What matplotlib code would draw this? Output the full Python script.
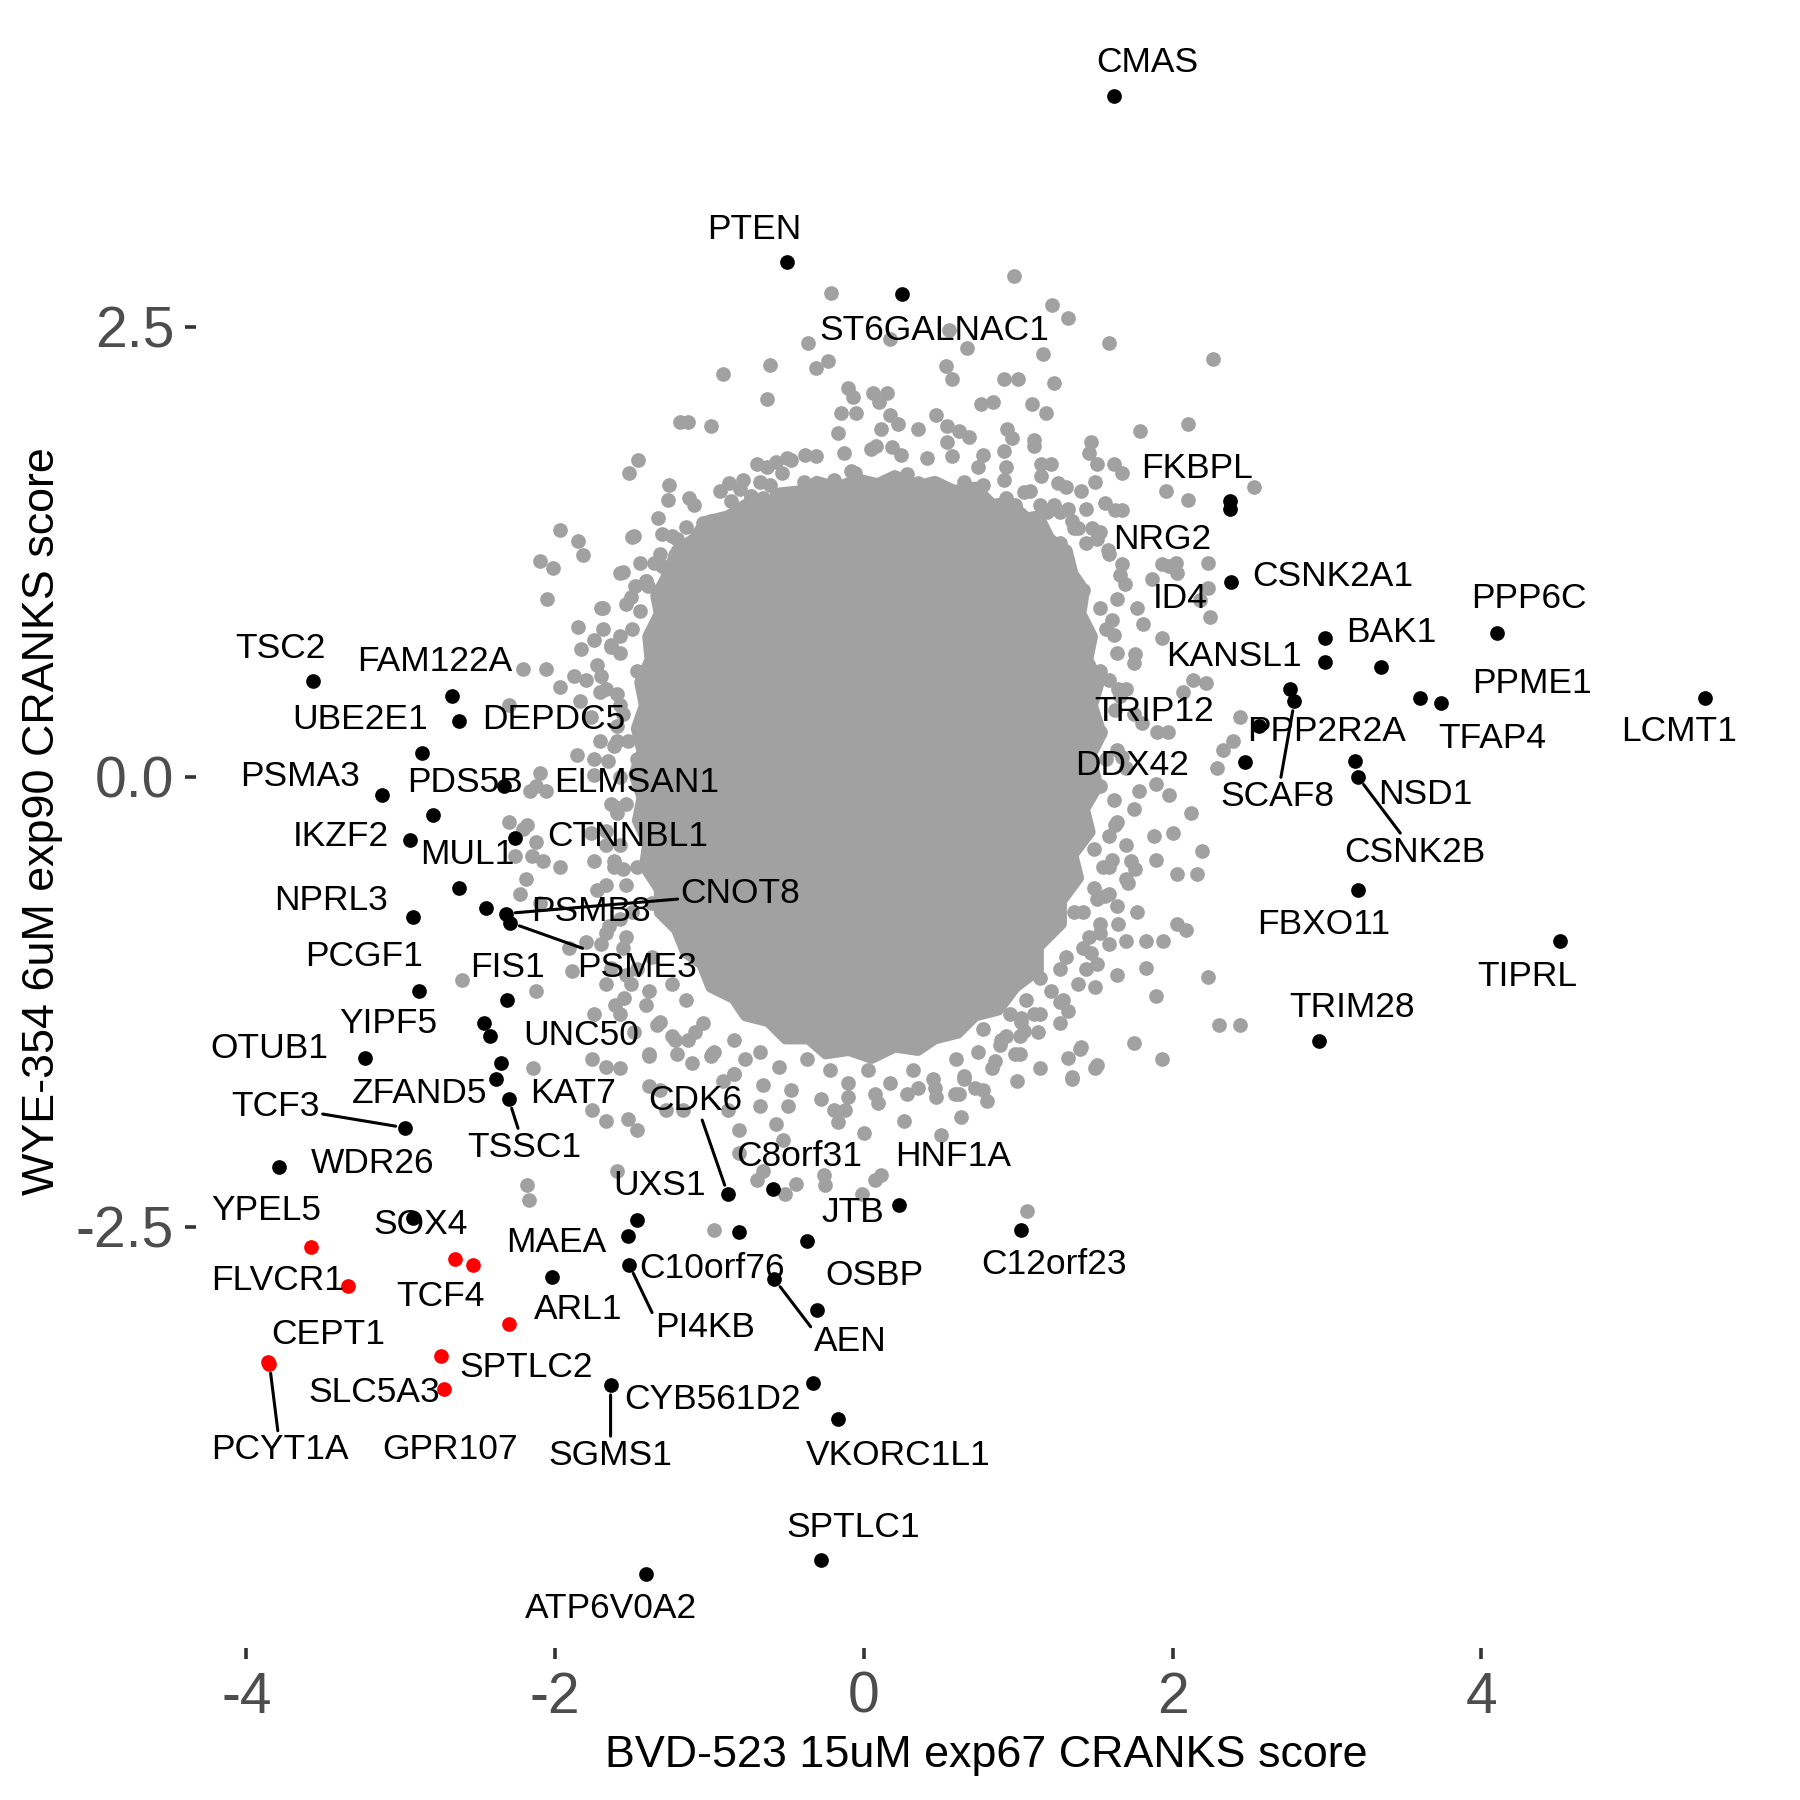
import matplotlib
matplotlib.use("Agg")
import matplotlib.pyplot as plt

plt.rcParams['font.family'] = ['Liberation Sans', 'DejaVu Sans']
plt.rcParams['axes.unicode_minus'] = False

# --- labelled genes (BVD-523 score, WYE-354 score) ---
hit_names = ["CMAS", "PTEN", "ST6GALNAC1", "FKBPL", "NRG2", "CSNK2A1", "ID4", "KANSL1",
             "BAK1", "PPP6C", "PPME1", "TFAP4", "LCMT1", "TRIP12", "SCAF8", "PPP2R2A",
             "DDX42", "NSD1", "CSNK2B", "FBXO11", "TIPRL", "TRIM28",
             "TSC2", "FAM122A", "DEPDC5", "UBE2E1", "PSMA3", "PDS5B", "ELMSAN1", "IKZF2",
             "CTNNBL1", "MUL1", "NPRL3", "PSMB8", "CNOT8", "PSME3", "PCGF1", "FIS1",
             "YIPF5", "UNC50", "OTUB1", "ZFAND5", "KAT7", "TSSC1", "TCF3", "WDR26", "SOX4",
             "UXS1", "MAEA", "PI4KB", "ARL1", "C10orf76", "CDK6", "C8orf31", "HNF1A",
             "JTB", "OSBP", "AEN", "C12orf23", "CYB561D2", "SGMS1", "VKORC1L1", "SPTLC1",
             "ATP6V0A2",
             "YPEL5", "FLVCR1", "TCF4", "SPTLC2", "GPR107", "SLC5A3", "CEPT1", "PCYT1A"]
hit_x = [1.62, -0.50, 0.25, 2.37, 2.37, 2.38, 2.99, 2.99,
         3.35, 4.10, 3.60, 3.74, 5.45, 2.76, 2.79, 2.56,
         2.47, 3.18, 3.20, 3.20, 4.51, 2.95,
         -3.57, -2.67, -2.62, -2.86, -3.12, -2.79, -2.33, -2.94,
         -2.26, -2.62, -2.92, -2.45, -2.32, -2.29, -2.88, -2.31,
         -2.46, -2.42, -3.23, -2.35, -2.38, -2.30, -2.97, -3.79, -2.92,
         -1.47, -1.53, -1.52, -2.02, -0.81, -0.88, -0.59, 0.23,
         -0.37, -0.30, -0.58, 1.02, -0.33, -1.64, -0.17, -0.28,
         -1.41,
         -3.58, -3.34, -2.65, -2.30, -2.74, -2.72, -3.86, -3.85]
hit_y = [3.78, 2.86, 2.68, 1.53, 1.49, 1.08, 0.77, 0.64,
         0.61, 0.80, 0.44, 0.41, 0.44, 0.49, 0.42, 0.28,
         0.08, 0.09, 0.00, -0.63, -0.91, -1.47,
         0.53, 0.45, 0.31, 0.13, -0.10, -0.21, -0.05, -0.35,
         -0.34, -0.62, -0.78, -0.73, -0.76, -0.81, -1.19, -1.24,
         -1.37, -1.44, -1.56, -1.59, -1.68, -1.79, -1.95, -2.17, -2.45,
         -2.46, -2.55, -2.71, -2.78, -2.53, -2.32, -2.29, -2.38,
         -2.58, -2.96, -2.79, -2.52, -3.37, -3.38, -3.57, -4.35,
         -4.43,
         -2.61, -2.83, -2.68, -3.04, -3.22, -3.40, -3.25, -3.26]

# highlighted set (drawn in red)
red_names = ["YPEL5", "FLVCR1", "TCF4", "SPTLC2", "GPR107", "SLC5A3", "CEPT1", "PCYT1A"]
red_extra = [(-2.53, -2.71)]  # red gene without a visible label

# --- all other genes (grey) ---
# solid centre of the cloud, ragged outline
core_x = [-1.287, -1.213, -1.101, -1.027, -0.878, -0.766, -0.632, -0.543, -0.394, -0.305,
          -0.171, -0.037, 0.089, 0.201, 0.350, 0.461, 0.588, 0.722, 0.833, 0.945,
          1.057, 1.131, 1.205, 1.317, 1.354, 1.429, 1.406, 1.481, 1.451, 1.525,
          1.481, 1.540, 1.466, 1.518, 1.429, 1.466, 1.354, 1.391, 1.280, 1.280,
          1.131, 1.131, 0.982, 0.871, 0.722, 0.610, 0.461, 0.350, 0.201, 0.052,
          -0.097, -0.246, -0.357, -0.506, -0.618, -0.766, -0.841, -0.990, -1.049, -1.153,
          -1.213, -1.324, -1.324, -1.421, -1.399, -1.466, -1.436, -1.488, -1.436, -1.473,
          -1.421, -1.451, -1.384, -1.399, -1.324, -1.347]
core_y = [1.098, 1.258, 1.322, 1.418, 1.450, 1.513, 1.501, 1.577, 1.590, 1.641,
          1.609, 1.654, 1.628, 1.673, 1.616, 1.641, 1.590, 1.609, 1.513, 1.526,
          1.437, 1.450, 1.322, 1.258, 1.130, 1.034, 0.907, 0.779, 0.651, 0.524,
          0.396, 0.236, 0.109, -0.051, -0.179, -0.307, -0.434, -0.562, -0.690, -0.817,
          -0.945, -1.073, -1.169, -1.296, -1.328, -1.424, -1.456, -1.520, -1.501, -1.564,
          -1.520, -1.539, -1.456, -1.456, -1.360, -1.328, -1.232, -1.169, -1.041, -0.977,
          -0.849, -0.754, -0.626, -0.498, -0.370, -0.243, -0.115, 0.013, 0.140, 0.268,
          0.396, 0.524, 0.651, 0.779, 0.907, 1.003]

# crowded rim of the centre
grey_rim = [
    (-1.56, 1.14), (-1.41, 1.09), (-1.32, 1.24), (-1.24, 1.34), (-1.15, 1.39), (-1.04, 1.41),
    (-1.50, 0.82), (-1.58, 0.69), (-1.47, 0.59), (-1.56, 0.35), (-1.47, 0.10), (-1.58, 0.00),
    (-1.54, -0.15), (-1.45, -0.25), (-1.62, -0.50), (-1.47, -0.50), (-1.37, -0.70), (-1.50, -0.75),
    (-1.37, -1.00), (-1.24, -1.15), (-1.15, -1.24), (-1.04, -1.37), (-1.24, -1.44), (-1.11, -1.59),
    (-0.98, -1.54), (-1.64, 0.72), (-1.67, 0.49), (-1.60, 0.28), (-1.66, 0.09), (-1.61, -0.17),
    (-1.67, -0.38), (-1.56, -0.51), (-1.65, -0.83), (-1.54, -0.89), (-1.64, -1.06), (-1.51, -1.15),
    (-1.61, -1.27), (-1.41, -1.27), (-1.49, -1.42), (-1.34, -1.38),
    (-1.22, -1.46), (-1.09, -1.42), (-0.97, -1.53), (-0.84, -1.46), (-0.77, -1.57), (-0.67, -1.53),
    (-0.55, -1.61), (-0.37, -1.57), (-0.22, -1.63), (-0.10, -1.70), (0.03, -1.63), (0.17, -1.70),
    (0.32, -1.63), (0.45, -1.68), (0.60, -1.57), (0.74, -1.53), (0.89, -1.46), (1.02, -1.36),
    (1.14, -1.32), (1.27, -1.25), (1.39, -1.15), (1.51, -1.04), (1.59, -0.93), (1.46, -0.89),
    (1.64, -0.72), (1.51, -0.68), (1.71, -0.59), (1.76, -0.51), (1.61, -0.46),
    (1.53, 1.36), (1.44, 1.49), (1.31, 1.61), (1.21, 1.74), (1.10, 1.84), (1.59, 1.24),
    (1.66, 1.12), (1.53, 0.94), (1.42, 1.04), (1.62, 0.79), (1.53, 0.59), (1.66, 0.45),
    (1.53, 0.25), (1.64, 0.15), (1.53, -0.05), (1.64, -0.25), (1.49, -0.40), (1.59, -0.50),
    (1.49, -0.62), (1.36, -0.75), (1.53, -0.87), (1.42, -0.95), (1.27, -1.07), (1.14, -1.12),
    (1.05, -1.24), (0.95, -1.32), (0.88, -1.49), (1.01, -1.44),
    (-0.52, 1.51), (-0.37, 1.55), (-0.22, 1.58), (-0.07, 1.60), (0.03, 1.62), (0.17, 1.58),
    (0.32, 1.62), (0.47, 1.60), (0.62, 1.58), (0.77, 1.62), (0.92, 1.55), (1.04, 1.58),
    (1.14, 1.51), (1.27, 1.47), (1.36, 1.38), (1.44, 1.30), (-0.97, 1.38), (-0.84, 1.45),
    (-0.67, 1.47), (-1.09, 1.30), (-1.22, 1.23), (-1.31, 1.17), (-1.41, 1.09), (-1.51, 1.00)]

# second, looser ring around the centre
grey_ring = [
    (-1.10, 1.51), (-0.93, 1.59), (-0.78, 1.65), (-0.63, 1.72), (-0.47, 1.76), (-0.31, 1.78),
    (-0.13, 1.80), (0.05, 1.82), (0.24, 1.79), (0.41, 1.77), (0.57, 1.78), (0.74, 1.72),
    (0.91, 1.65), (1.08, 1.59), (1.23, 1.51), (1.35, 1.42), (-0.73, 1.56), (-0.39, 1.64),
    (-0.06, 1.69), (0.28, 1.68), (0.65, 1.64), (0.98, 1.51), (-0.99, 1.42), (-1.21, 1.32),
    (-1.58, 1.13), (-1.70, 0.94), (-1.58, 0.78), (-1.73, 0.62), (-1.60, 0.46), (-1.77, 0.33),
    (-1.62, 0.17), (-1.75, 0.01), (-1.64, -0.15), (-1.77, -0.31), (-1.62, -0.47), (-1.73, -0.63),
    (-1.58, -0.79), (-1.70, -0.93), (-1.47, -1.07), (-1.55, -1.23), (-1.32, -1.36), (-1.14, -1.46),
    (1.58, 1.26), (1.69, 1.07), (1.61, 0.87), (1.76, 0.68), (1.65, 0.49), (1.80, 0.30),
    (1.67, 0.11), (1.78, -0.08), (1.63, -0.27), (1.73, -0.47), (1.56, -0.66), (1.65, -0.82),
    (1.47, -0.98), (1.50, -1.17), (1.32, -1.30), (1.13, -1.42),
    (-0.84, -1.65), (-0.65, -1.71), (-0.47, -1.74), (-0.28, -1.79), (-0.10, -1.78), (0.09, -1.81),
    (0.28, -1.76), (0.46, -1.73), (0.65, -1.68), (0.83, -1.62), (0.98, -1.54), (-0.99, -1.55)]

grey_top = [
    (-0.21, 2.69), (0.97, 2.78), (1.22, 2.62), (1.32, 2.55), (1.59, 2.41), (-0.36, 2.41),
    (0.17, 2.43), (0.55, 2.48), (0.67, 2.38), (1.16, 2.35), (-0.61, 2.29), (-0.23, 2.31),
    (-0.31, 2.27), (-0.91, 2.24), (0.53, 2.28), (0.57, 2.21), (0.91, 2.21), (1.00, 2.21),
    (1.23, 2.19), (-0.10, 2.16), (-0.07, 2.11), (0.06, 2.13), (0.15, 2.13), (0.10, 2.08),
    (-0.63, 2.10), (0.76, 2.07), (0.84, 2.08), (1.09, 2.07), (1.18, 2.02), (-0.15, 2.02),
    (-0.05, 2.02), (0.47, 2.01), (0.17, 2.01), (0.22, 1.96), (-1.19, 1.97), (-1.14, 1.97),
    (-0.99, 1.95), (-0.17, 1.91), (0.11, 1.93), (0.35, 1.93), (0.54, 1.95), (0.62, 1.92),
    (0.68, 1.89), (0.93, 1.93), (0.96, 1.88), (1.10, 1.87), (1.79, 1.92), (2.10, 1.96),
    (0.08, 1.84), (0.18, 1.83), (0.54, 1.86), (1.47, 1.86), (1.46, 1.80), (1.51, 1.74),
    (1.62, 1.74), (1.67, 1.69), (0.77, 1.79), (0.91, 1.81), (0.92, 1.72), (-1.46, 1.76),
    (-1.52, 1.69), (-0.69, 1.74), (-0.57, 1.75), (-0.50, 1.77), (-0.38, 1.79), (-0.53, 1.69),
    (-0.08, 1.70), (-0.19, 1.65), (0.22, 1.63), (0.35, 1.63), (1.15, 1.74), (1.15, 1.67),
    (1.26, 1.63), (1.50, 1.64), (1.41, 1.59), (1.96, 1.59), (2.10, 1.54), (-1.26, 1.62),
    (-1.27, 1.54), (-1.13, 1.55), (-0.87, 1.63), (-0.80, 1.60), (-0.67, 1.64), (-0.61, 1.62),
    (-0.57, 1.56), (-0.86, 1.53), (-0.73, 1.55), (-0.65, 1.55), (1.56, 1.52), (1.63, 1.48),
    (1.67, 1.48), (-1.33, 1.44), (-1.31, 1.35), (-1.49, 1.34), (1.48, 1.38), (1.51, 1.32),
    (1.67, 1.18), (1.93, 1.18), (2.02, 1.19), (2.03, 1.13), (1.87, 1.10), (-1.45, 1.19),
    (-1.36, 1.19), (-1.48, 1.06), (-1.40, 1.06), (2.26, 2.32), (2.53, 1.61), (2.23, 1.19),
    (2.23, 1.05), (-0.97, 1.34), (-0.77, 1.47), (-0.68, 1.37), (-0.55, 1.43), (-0.42, 1.49),
    (-0.27, 1.51), (1.19, 1.47), (1.32, 1.49), (1.39, 1.38), (1.27, 1.30)]

grey_left = [
    (-1.97, 1.37), (-1.85, 1.31), (-1.82, 1.23), (-2.10, 1.20), (-2.01, 1.16), (-2.05, 0.99),
    (-1.54, 0.96), (-1.69, 0.94), (-1.45, 0.92), (-1.85, 0.83), (-1.75, 0.76), (-1.69, 0.82),
    (-1.64, 0.73), (-1.50, 1.33), (-2.21, 0.60), (-2.06, 0.60), (-1.97, 0.50), (-1.88, 0.56),
    (-1.80, 0.54), (-1.70, 0.56), (-1.71, 0.47), (-1.84, 0.42), (-1.58, 0.40), (-1.53, 0.20),
    (-1.86, 0.12), (-1.75, 0.10), (-1.71, 0.20), (-1.60, 0.20), (-2.10, 0.02), (-2.06, -0.08),
    (-2.16, -0.08), (-2.12, -0.05), (-2.21, -0.29), (-2.12, -0.36), (-1.60, -0.20), (-1.67, -0.30),
    (-1.58, -0.38), (-1.75, -0.47), (-1.97, -0.50), (-2.08, -0.47), (-2.19, -0.57), (-2.23, -0.65),
    (-2.10, -0.70), (-1.67, -0.60), (-1.54, -0.60), (-1.67, -0.87), (-1.56, -0.95), (-1.80, -0.92),
    (-1.91, -0.95), (-1.54, -1.10), (-1.67, -1.15), (-1.39, -1.19), (-1.58, -1.32), (-1.75, -1.32),
    (-1.89, -1.08), (-1.58, -1.62), (-1.39, -1.54), (-1.32, -1.74), (-2.60, -1.13), (-2.12, -1.19),
    (-2.14, -1.62), (-1.83, 0.71), (-2.30, 0.40), (-2.30, -0.25), (-2.18, -0.27), (-2.26, -0.44),
    (-2.15, -0.44), (-2.18, -2.27), (-2.17, -2.35)]

grey_right = [
    (2.24, 0.89), (2.18, 0.98), (1.93, 0.77), (1.81, 0.85), (2.13, 0.54), (2.22, 0.52),
    (2.07, 0.47), (2.44, 0.33), (2.39, 0.20), (2.33, 0.15), (2.29, 0.05), (1.90, 0.25),
    (1.97, 0.25), (1.89, -0.04), (1.98, -0.10), (2.12, -0.20), (1.88, -0.33), (2.00, -0.31),
    (2.19, -0.41), (1.89, -0.46), (2.03, -0.54), (2.16, -0.54), (1.70, -0.57), (1.77, -0.75),
    (2.03, -0.82), (2.09, -0.85), (1.83, -0.91), (1.94, -0.91), (1.70, -0.91), (1.83, -1.06),
    (2.23, -1.11), (1.89, -1.22), (1.75, -1.48), (1.93, -1.57), (2.30, -1.38), (2.44, -1.38),
    (1.51, -1.60), (1.40, -1.51), (1.35, -1.67), (1.29, -1.24), (1.64, -1.10), (1.53, -0.82),
    (1.59, -0.65), (1.98, 1.17), (1.64, 0.99), (1.77, 0.94), (1.57, 0.82), (1.64, 0.69),
    (1.75, 0.63), (1.59, 0.54), (1.70, 0.49), (1.63, 0.37), (1.75, 0.35), (1.57, 0.10),
    (1.70, 0.05), (1.62, -0.13), (1.75, -0.18), (1.59, -0.33), (1.70, -0.38), (1.55, -0.50),
    (1.42, -0.75), (1.31, -1.00), (1.44, -1.07), (1.21, -1.19), (1.10, -1.32), (1.27, -1.37),
    (1.01, -1.54), (1.14, -1.62), (0.99, -1.69)]

grey_bottom = [
    (-1.76, -1.57), (-1.67, -1.61), (-1.76, -1.85), (-1.67, -1.91), (-1.53, -1.90), (-1.47, -1.96),
    (-1.60, -2.19), (-0.97, -2.52), (-0.81, -1.96), (-0.67, -1.83), (-0.52, -2.02), (-0.81, -2.09),
    (-0.69, -2.24), (-0.51, -2.32), (-0.44, -2.26), (-0.26, -2.21), (-0.25, -2.27), (-0.01, -2.32),
    (0.00, -1.98), (0.07, -2.24), (0.11, -2.21), (0.26, -1.91), (0.50, -1.99), (0.63, -1.89),
    (0.80, -1.80), (0.72, -1.73), (0.59, -1.76), (1.06, -2.41), (1.32, -1.56), (1.41, -1.50),
    (1.50, -1.62), (1.35, -1.68), (1.04, -1.41), (0.85, -1.58), (0.35, -1.73), (0.07, -1.76),
    (-0.19, -1.85), (-0.49, -1.83), (-0.91, -1.69), (-1.21, -1.54), (-1.28, -1.85), (-1.39, -1.72),
    (-0.84, -1.65), (1.02, -1.34), (0.77, -1.40), (0.92, -1.44), (0.65, -1.66), (0.77, -1.74),
    (0.62, -1.76), (0.47, -1.78), (-0.12, -1.85), (-0.17, -1.92), (-0.57, -1.93), (-0.65, -2.19),
    (-0.88, -1.85), (-1.17, -1.85), (-1.39, -1.55)]

# --- label layout (where the repelled labels ended up) ---
label_pos = {
    "CMAS": (1.84, 3.97), "PTEN": (-0.71, 3.04), "ST6GALNAC1": (0.46, 2.48),
    "FKBPL": (2.16, 1.71), "NRG2": (1.93, 1.32), "CSNK2A1": (3.04, 1.11), "ID4": (2.05, 0.99),
    "KANSL1": (2.40, 0.67), "BAK1": (3.42, 0.80), "PPP6C": (4.31, 0.99), "PPME1": (4.33, 0.52),
    "TFAP4": (4.07, 0.21), "LCMT1": (5.28, 0.25), "TRIP12": (1.88, 0.36), "SCAF8": (2.68, -0.11),
    "PPP2R2A": (3.00, 0.25), "DDX42": (1.74, 0.06), "NSD1": (3.64, -0.10), "CSNK2B": (3.57, -0.42),
    "FBXO11": (2.98, -0.82), "TIPRL": (4.30, -1.11), "TRIM28": (3.16, -1.28),
    "TSC2": (-3.78, 0.71), "FAM122A": (-2.78, 0.64), "DEPDC5": (-2.01, 0.32), "UBE2E1": (-3.26, 0.32),
    "PSMA3": (-3.65, 0.00), "PDS5B": (-2.58, -0.03), "ELMSAN1": (-1.47, -0.03), "IKZF2": (-3.39, -0.33),
    "CTNNBL1": (-1.53, -0.33), "MUL1": (-2.57, -0.43), "NPRL3": (-3.45, -0.69), "PSMB8": (-1.77, -0.75),
    "CNOT8": (-0.80, -0.65), "PSME3": (-1.47, -1.06), "PCGF1": (-3.24, -1.00), "FIS1": (-2.31, -1.06),
    "YIPF5": (-3.08, -1.37), "UNC50": (-1.83, -1.44), "OTUB1": (-3.85, -1.51), "ZFAND5": (-2.88, -1.76),
    "KAT7": (-1.88, -1.76), "TSSC1": (-2.20, -2.06), "TCF3": (-3.81, -1.83), "WDR26": (-3.18, -2.15),
    "SOX4": (-2.87, -2.49), "UXS1": (-1.32, -2.27), "MAEA": (-1.99, -2.59), "PI4KB": (-1.03, -3.06),
    "ARL1": (-1.85, -2.96), "C10orf76": (-0.98, -2.73), "CDK6": (-1.09, -1.80), "C8orf31": (-0.42, -2.11),
    "HNF1A": (0.58, -2.11), "JTB": (-0.07, -2.42), "OSBP": (0.07, -2.77), "AEN": (-0.09, -3.14),
    "C12orf23": (1.23, -2.71), "CYB561D2": (-0.98, -3.46), "SGMS1": (-1.64, -3.77),
    "VKORC1L1": (0.22, -3.77), "SPTLC1": (-0.07, -4.17), "ATP6V0A2": (-1.64, -4.62),
    "YPEL5": (-3.87, -2.41), "FLVCR1": (-3.80, -2.80), "TCF4": (-2.74, -2.89), "SPTLC2": (-2.19, -3.28),
    "GPR107": (-2.68, -3.74), "SLC5A3": (-3.17, -3.42), "CEPT1": (-3.47, -3.10), "PCYT1A": (-3.78, -3.74),
}
# labels joined to their gene by a segment, with the point of the label box it leaves from
segment_from = {"CNOT8": (0.5, 0.5), "PSME3": (0.5, 0.5), "TCF3": (0.5, 0.5),
                "TSSC1": (0.5, 0.5), "CDK6": (0.5, 0.5), "SCAF8": (0.5, 0.5),
                "CSNK2B": (0.5, 0.5), "PCYT1A": (0.5, 0.5), "SGMS1": (0.5, 0.5),
                "PI4KB": (0.0, 0.78), "AEN": (0.0, 0.85)}

x_ticks = [-4, -2, 0, 2, 4]
x_tick_labels = ["-4", "-2", "0", "2", "4"]
y_ticks = [-2.5, 0.0, 2.5]
y_tick_labels = ["-2.5", "0.0", "2.5"]

grey = "#A1A1A1"
dot_size = 112
label_size = 25.5

fig = plt.figure(figsize=(18, 18), dpi=100)
ax = fig.add_axes([0.1089, 0.0844, 0.8783, 0.9031])

# grey cloud
ax.fill(core_x, core_y, color=grey, lw=8, joinstyle="round", zorder=1)
grey_pts = grey_rim + grey_ring + grey_top + grey_left + grey_right + grey_bottom
ax.scatter([p[0] for p in grey_pts], [p[1] for p in grey_pts], s=dot_size, c=grey,
           linewidths=0, zorder=2)

# black and red genes
is_red = [n in red_names for n in hit_names]
bx = [x for x, r in zip(hit_x, is_red) if not r]
by = [y for y, r in zip(hit_y, is_red) if not r]
rx = [x for x, r in zip(hit_x, is_red) if r] + [p[0] for p in red_extra]
ry = [y for y, r in zip(hit_y, is_red) if r] + [p[1] for p in red_extra]
ax.scatter(bx, by, s=dot_size, c="black", linewidths=0, zorder=3)
ax.scatter(rx, ry, s=dot_size, c="#FF0000", linewidths=0, zorder=4)

# limits with 5% expansion
all_x = hit_x + [p[0] for p in grey_pts]
all_y = hit_y + [p[1] for p in grey_pts]
dx = 0.05 * (max(all_x) - min(all_x))
dy = 0.05 * (max(all_y) - min(all_y))
ax.set_xlim(min(all_x) - dx, max(all_x) + dx)
ax.set_ylim(min(all_y) - dy, max(all_y) + dy)

# labels
for name, px, py in zip(hit_names, hit_x, hit_y):
    lx, ly = label_pos[name]
    if name in segment_from:
        ax.annotate(name, xy=(px, py), xytext=(lx, ly), ha="center", va="center",
                    fontsize=label_size, color="black", zorder=5,
                    arrowprops=dict(arrowstyle="-", color="black", lw=2.2,
                                    shrinkA=0, shrinkB=7, relpos=segment_from[name]))
    else:
        ax.text(lx, ly, name, ha="center", va="center", fontsize=label_size,
                color="black", zorder=5)

ax.set_xticks(x_ticks)
ax.set_xticklabels(x_tick_labels)
ax.set_yticks(y_ticks)
ax.set_yticklabels(y_tick_labels)
ax.tick_params(length=8, width=2.6, color="#333333", labelsize=41,
               labelcolor="#4D4D4D")
ax.tick_params(axis="x", pad=8.3)
ax.tick_params(axis="y", pad=7.8)
for s in ax.spines.values():
    s.set_visible(False)

ax.set_xlabel("BVD-523 15uM exp67 CRANKS score", fontsize=32.3, color="black")
ax.set_ylabel("WYE-354 6uM exp90 CRANKS score", fontsize=32.3, color="black")
ax.xaxis.label.set_va("center")
ax.yaxis.label.set_va("center")
ax.xaxis.set_label_coords(0.5, -0.0658)
ax.yaxis.set_label_coords(-0.097, 0.509)

fig.savefig("out.png", dpi=100, facecolor="white")
